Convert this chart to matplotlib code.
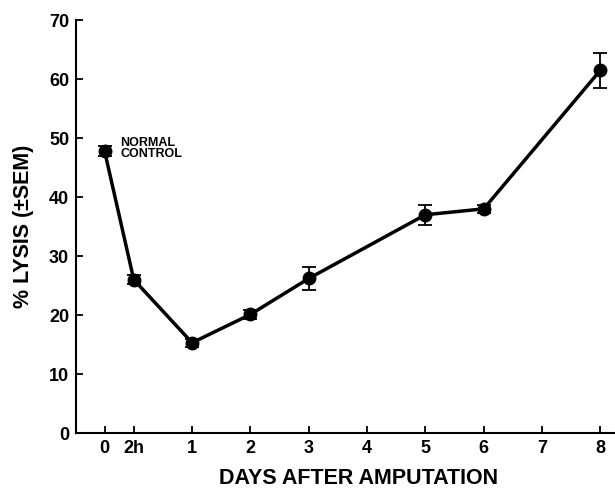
import matplotlib
matplotlib.use("Agg")
import matplotlib.pyplot as plt

# Data
tick_labels = ["0", "2h", "1", "2", "3", "4", "5", "6", "7", "8"]
tick_pos = [-0.5, 0, 1, 2, 3, 4, 5, 6, 7, 8]
x_pts = [-0.5, 0, 1, 2, 3, 5, 6, 8]
lysis = [47.8, 26.0, 15.3, 20.1, 26.2, 37.0, 38.0, 61.5]
sem = [0.9, 0.8, 0.7, 0.8, 2.0, 1.7, 0.7, 3.0]
y_ticks = [0, 10, 20, 30, 40, 50, 60, 70]

plt.rcParams['font.family'] = ['Liberation Sans', 'DejaVu Sans']

fig = plt.figure(figsize=(6.15, 4.9), dpi=100)
ax = fig.add_axes([0.1236, 0.1163, 0.8754, 0.8427])

ax.errorbar(x_pts, lysis, yerr=sem, color='black', lw=2.5, marker='o',
            markersize=9, capsize=5, elinewidth=1.3, capthick=1.3)

ax.set_xlim(-0.99, 8.24)
ax.set_ylim(0, 70)
ax.set_xticks(tick_pos)
ax.set_xticklabels(tick_labels)
ax.set_yticks(y_ticks)

for s in ['top', 'right']:
    ax.spines[s].set_visible(False)
for s in ['left', 'bottom']:
    ax.spines[s].set_linewidth(1.5)

ax.tick_params(direction='in', length=5, width=1.3, labelsize=13, pad=5)
for lab in ax.get_xticklabels() + ax.get_yticklabels():
    lab.set_fontweight('bold')

ax.set_xlabel("DAYS AFTER AMPUTATION", fontsize=15.5, fontweight='bold', labelpad=9)
ax.xaxis.set_label_coords(0.525, -0.085)
ax.set_ylabel("% LYSIS (±SEM)", fontsize=15.5, fontweight='bold', labelpad=11)

ax.text(-0.23, 50.2, "NORMAL\nCONTROL", fontsize=9, fontweight='bold',
        va='top', ha='left', linespacing=0.95)

fig.savefig("out.png", dpi=100)
